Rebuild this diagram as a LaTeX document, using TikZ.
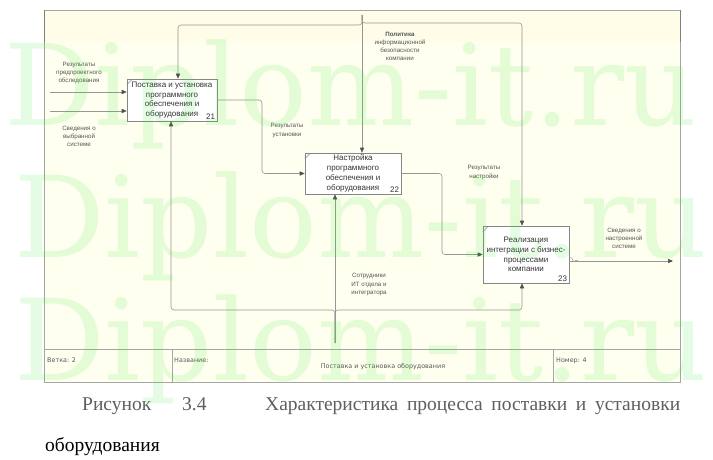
\documentclass[tikz,border=0pt]{standalone}
\usepackage{fontspec}
\setmainfont{Liberation Serif}
\setsansfont{Liberation Sans}
\newfontfamily\markfont{DejaVu Serif}
\newfontfamily\footfont{DejaVu Sans}
\usepackage{tikz}
\usetikzlibrary{arrows.meta}

\definecolor{sheet}{RGB}{255,255,240}
\definecolor{sheettop}{RGB}{255,253,232}
\definecolor{frameline}{RGB}{165,165,165}
\definecolor{linegray}{RGB}{150,150,150}
\definecolor{tipgray}{RGB}{80,80,80}
\definecolor{notegray}{RGB}{85,85,85}
\definecolor{capgray}{RGB}{95,95,95}

\begin{document}
\begin{tikzpicture}[x=1pt,y=-1pt]

	\tikzstyle box=[draw=gray!95,fill=white,line width=.6pt,inner sep=1pt,align=center,text=black!80,font=\sffamily\fontsize{8}{9.8}\selectfont];
	\tikzstyle boxnum=[inner sep=2pt,text=black!80,font=\sffamily\fontsize{8}{9}\selectfont];
	\tikzstyle link=[draw=linegray,line width=.6pt,-{Triangle[length=5pt,width=4.2pt,color=tipgray]}];
	\tikzstyle note=[inner sep=0pt,align=center,text=notegray,font=\sffamily\fontsize{6.2}{8.1}\selectfont];
	\tikzstyle footnote=[inner sep=0pt,anchor=west,text=black!65,font=\footfont\fontsize{6.4}{7}\selectfont];
	\tikzstyle captext=[inner sep=0pt,anchor=base west,font=\fontsize{19.5}{22}\selectfont];
	\tikzstyle watermark=[inner sep=0pt,anchor=base west,text={rgb,255:red,40;green,235;blue,40},text opacity=.13,font=\markfont\fontsize{113}{113}\selectfont];

	\useasboundingbox (0,0) rectangle (713,460);
	\fill[white] (0,0) rectangle (713,460);

	% sheet and title block
	\fill[sheet] (44,10) rectangle (680,382);
	\fill[sheettop] (44,10) rectangle (680,42);
	\draw[frameline,line width=.7pt] (44,10) rectangle (680,382);
	\draw[frameline,line width=.7pt] (44,349) -- (680,349);
	\draw[frameline,line width=.7pt] (172,349) -- (172,382);
	\draw[frameline,line width=.7pt] (553,349) -- (553,382);
	\draw[gray,line width=.7pt] (44,10) -- (44,42) (680,10) -- (680,42);

	\node[footnote] (branch) at (47,360) {Ветка: 2};
	\node[footnote] (titlekey) at (174,360) {Название:};
	\node[footnote,anchor=center] (title) at (383,367) {Поставка и установка оборудования};
	\node[footnote] (number) at (556,361) {Номер: 4};

	% activities
	\node[box,minimum width=90pt,minimum height=42pt] (b21) at (172,100) {Поставка и установка\\программного\\обеспечения и\\оборудования};
	\node[box,minimum width=96pt,minimum height=41pt] (b22) at (353,173.5) {Настройка\\программного\\обеспечения и\\оборудования};
	\node[box,minimum width=86pt,minimum height=57pt] (b23) at (526,254.5) {Реализация\\интеграции с бизнес-\\процессами\\компании};
	\node[boxnum,anchor=south east] (n21) at (b21.south east) {21};
	\node[boxnum,anchor=south east] (n22) at (b22.south east) {22};
	\node[boxnum,anchor=south east] (n23) at (b23.south east) {23};
	\draw[gray!95,line width=.5pt] (b21.north west) ++(0,6) -- ++(5,-5);
	\draw[gray!95,line width=.5pt] (b22.north west) ++(0,6) -- ++(5,-5);
	\draw[gray!95,line width=.5pt] (b23.north west) ++(0,6) -- ++(5,-5);

	% routing points
	\coordinate (in1) at (50,92);
	\coordinate (in2) at (50,111);
	\coordinate (r21) at (262,100);
	\coordinate (r22) at (442,173);
	\coordinate (out23) at (673,261);
	\coordinate (ctl) at (362,15);
	\coordinate (ctlL) at (178,25);
	\coordinate (ctlR) at (522,23);
	\coordinate (mech) at (335,343);
	\coordinate (mechL) at (171,310);
	\coordinate (mechR) at (522,310);

	% inputs and outputs
	\draw[link] (in1) -- (in1 -| b21.west);
	\draw[link] (in2) -- (in2 -| b21.west);
	\draw[link,rounded corners=3pt] (b21.east) -| (r21 |- b22.west) -- (b22.west);
	\draw[link,rounded corners=3pt] (b22.east) -| (r22 |- b23.west) -- (b23.west);
	\draw[link] (out23 -| b23.east) -- (out23);
	\draw[linegray,line width=.5pt] (570,258) .. controls (573,256) and (572,263) .. (575,261) .. controls (576,260) .. (578,261);

	% controls
	\draw[link] (ctl) -- (ctl |- b22.north);
	\draw[link,rounded corners=3pt] (ctl) |- (ctlL) -- (ctlL |- b21.north);
	\draw[link,rounded corners=3pt] (ctl) |- (ctlR) -- (ctlR |- b23.north);

	% mechanisms
	\draw[link] (mech) -- (mech |- b22.south);
	\draw[link,rounded corners=3pt] (mech) |- (mechL) -- (mechL |- b21.south);
	\draw[link,rounded corners=3pt] (mech) |- (mechR) -- (mechR |- b23.south);

	% arrow labels
	\node[note] (lin1) at (79,73) {Результаты\\предпроектного\\обследования};
	\node[note] (lin2) at (79,136.5) {Сведения о\\выбранной\\системе};
	\node[note] (lr21) at (287,130.5) {Результаты\\установки};
	\node[note] (lr22) at (484,172.5) {Результаты\\настройки};
	\node[note] (lout) at (624,238.5) {Сведения о\\настроенной\\системе};
	\node[note] (lctl) at (400,46.5) {\textbf{Политика}\\информационной\\безопасности\\компании};
	\node[note] (lmech) at (369,284.5) {Сотрудники\\ИТ отдела и\\интегратора};

	% caption
	\node[captext,text=capgray] (cap1) at (82,410) {Рисунок};
	\node[captext,text=capgray] (cap2) at (182,410) {3.4};
	\node[captext,text=capgray] (cap3) at (265,410) {\hbox to 415pt{Характеристика\hfill процесса\hfill поставки\hfill и\hfill установки}};
	\node[captext,text=black] (cap4) at (45,451) {оборудования};

	% watermark
	\node[watermark] (w1) at (4,125) {Diplom-it.ru};
	\node[watermark] (w2) at (14,257) {Diplom-it.ru};
	\node[watermark] (w3) at (14,380) {Diplom-it.ru};

\end{tikzpicture}
\end{document}
